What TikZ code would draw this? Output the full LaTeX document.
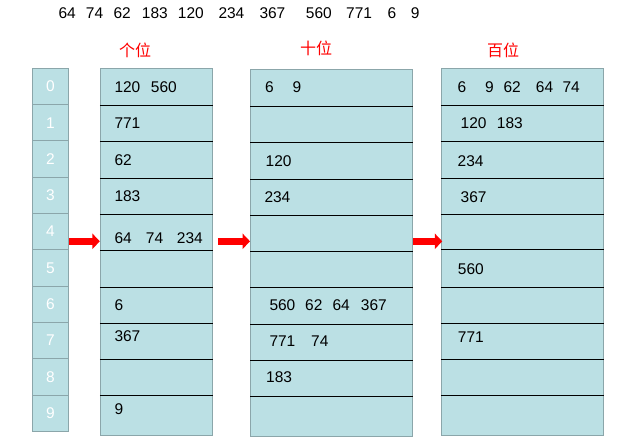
\documentclass[tikz,border=0pt]{standalone}
\usepackage{fontspec}
\setmainfont{Liberation Sans}
\newfontfamily\cjk{Noto Sans CJK SC}
\usetikzlibrary{arrows.meta}
\definecolor{cellfill}{RGB}{187,224,228}
\definecolor{cellborder}{RGB}{139,166,170}
\begin{document}
\begin{tikzpicture}[x=1pt,y=-1pt,
  num/.style={anchor=west, inner sep=0pt, font=\fontsize{15.5}{15.5}\selectfont},
  idxcell/.style={draw=cellborder, fill=cellfill, line width=1pt, minimum width=36.8pt, minimum height=36.3pt, inner sep=0pt, text=white, font=\fontsize{15.5}{15.5}\selectfont},
  bucketcol/.style={draw=cellborder, fill=cellfill, line width=1pt, inner sep=0pt},
  rowline/.style={black, line width=0.9pt},
  hdr/.style={text=red, inner sep=0pt, font=\cjk\fontsize{16}{16}\selectfont},
  flow/.style={red, line width=7.3pt, -{Triangle[length=7.5pt,width=15.3pt]}}]
\useasboundingbox (0,0) rectangle (626,443);

% input sequence
\foreach \x/\t [count=\k] in {58.3/64, 85.7/74, 113.3/62, 141.7/183, 177.7/120, 218.3/234, 259.3/367, 305.7/560, 346/771, 387.3/6, 410.7/9}
  \node[num] (s\k) at (\x,12.7) {\t};

% headers
\node[hdr] (h1) at (135,50) {个位};
\node[hdr] (h2) at (316,48) {十位};
\node[hdr] (h3) at (503,50) {百位};

% index column
\foreach \i in {0,...,9}
  \node[idxcell] (i\i) at (50.4,{86.45+36.3*\i}) {\i};

% bucket columns
\node[bucketcol, minimum width=112pt, minimum height=367pt] (c1) at (156.3,251.8) {};
\node[bucketcol, minimum width=162pt, minimum height=366.7pt] (c2) at (331.5,252.65) {};
\node[bucketcol, minimum width=162.5pt, minimum height=367pt] (c3) at (522.5,251.8) {};

\foreach \y in {105,141.5,178.2,214.3,250.4,287.3,323.3,359.3,395.3}
  \draw[rowline] (c1.west |- 0,\y) -- (c1.east |- 0,\y);
\foreach \y in {106.3,142.3,179.3,215.3,251,287.5,324.3,360.3,396.3}
  \draw[rowline] (c2.west |- 0,\y) -- (c2.east |- 0,\y);
\foreach \y in {105,141.3,178.3,214,249.8,287.3,323.3,359.3,395.3}
  \draw[rowline] (c3.west |- 0,\y) -- (c3.east |- 0,\y);

% contents of 个位
\foreach \x/\y/\t [count=\k] in {114.3/87.3/120, 150.7/87.3/560, 114.3/123.3/771, 114.3/160/62, 114.3/196/183,
   114.3/237.7/64, 145.7/237.7/74, 176.7/237.7/234, 114.3/305/6, 114.3/336/367, 114.3/409/9}
  \node[num] (a\k) at (\x,\y) {\t};

% contents of 十位
\foreach \x/\y/\t [count=\k] in {265/87.3/6, 292.3/87.3/9, 265.5/161.5/120, 264.3/196.7/234,
   269.3/305/560, 305/305/62, 332.3/305/64, 360.7/305/367, 269.3/341/771, 311/341/74, 266/377/183}
  \node[num] (b\k) at (\x,\y) {\t};

% contents of 百位
\foreach \x/\y/\t [count=\k] in {457.5/87.3/6, 485/87.3/9, 503.3/87.3/62, 535.7/87.3/64, 562.3/87.3/74,
   460.5/123.3/120, 496.7/123.3/183, 457.5/161/234, 460.5/196.7/367, 457.7/269.3/560, 457.7/337.3/771}
  \node[num] (d\k) at (\x,\y) {\t};

% arrows
\draw[flow] (i4.east |- 0,241.3) -- (c1.west |- 0,241.3);
\draw[flow, shorten <=5pt] (c1.east |- 0,241.3) -- (c2.west |- 0,241.3);
\draw[flow, shorten >=-1.5pt] (c2.east |- 0,241.3) -- (c3.west |- 0,241.3);
\end{tikzpicture}
\end{document}
